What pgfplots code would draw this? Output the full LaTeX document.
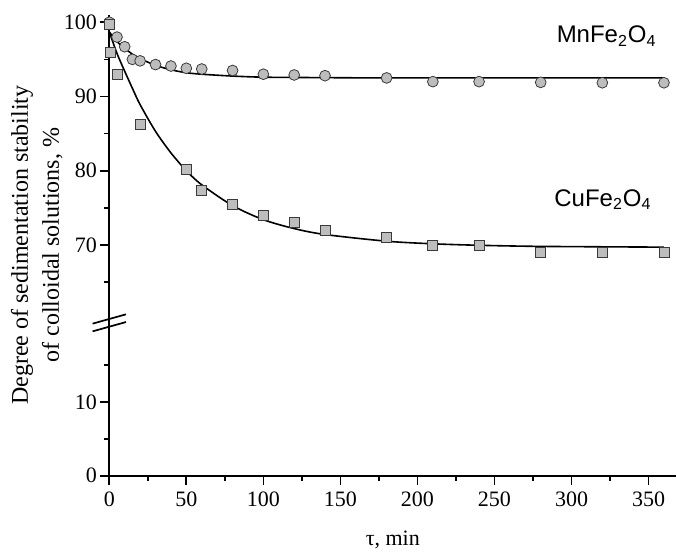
\documentclass[border=0pt]{standalone}
\usepackage{fontspec}
\setmainfont{Liberation Serif}
\newfontfamily\arial{Liberation Sans}
\usepackage{pgfplots}
\pgfplotsset{compat=1.18}

\definecolor{mk}{HTML}{BDBDBD}
\definecolor{mkedge}{HTML}{3A3A3A}

\pgfplotsset{
  brk/.style={
    scale only axis, width=283.5pt, xmin=0, xmax=368,
    axis line style={line width=0.85pt},
    every tick/.style={line width=0.85pt, black},
    major tick length=4.5pt, minor tick length=2.5pt,
    tick align=outside,
    /pgf/number format/assume math mode=true,
    tick label style={font=\fontsize{11}{13}\selectfont},
    yticklabel style={inner xsep=1.5pt},
    clip=false,
  },
  mn/.style={only marks, mark=*, mark size=2.7pt,
    mark options={fill=mk, draw=mkedge, line width=0.4pt}},
  cu/.style={only marks, mark=square*, mark size=2.5pt,
    mark options={fill=mk, draw=mkedge, line width=0.4pt}},
  fit/.style={black, line width=0.8pt, smooth, no marks},
}

\begin{document}
\begin{tikzpicture}
\useasboundingbox (-54.65pt,-40.65pt) rectangle (283.85pt,237.85pt);

% lower part of the broken y axis
\begin{axis}[brk, at={(0pt,0pt)}, height=76.8pt,
  ymin=0, ymax=20.8,
  axis x line*=bottom, axis y line*=left,
  xtick={0,50,...,350}, minor xtick={25,75,...,325},
  ytick={0,10}, minor ytick={5,15},
  xlabel={τ, min},
  every axis x label/.style={at={(axis description cs:0.5,0)}, anchor=center,
    yshift=-32pt, font=\fontsize{11}{13}\selectfont},
]
\end{axis}

% upper part
\begin{axis}[brk, at={(0pt,76.8pt)}, height=153.55pt,
  ymin=59.6, ymax=100.98,
  axis x line=none, axis y line*=left,
  ytick={70,80,90,100}, minor ytick={65,75,85,95},
]
\addplot[mn] coordinates {
  (0,100) (5,98.0) (10,96.7) (15,95.0) (20,94.8) (30,94.3) (40,94.1)
  (50,93.8) (60,93.7) (80,93.5) (100,93.0) (120,92.9) (140,92.8)
  (180,92.5) (210,92.0) (240,92.0) (280,91.9) (320,91.85) (360,91.85)};
\addplot[cu] coordinates {
  (0,99.7) (1,96.0) (5,93.0) (20,86.3) (50,80.2) (60,77.4) (80,75.5)
  (100,74.0) (120,73.0) (140,72.0) (180,71.0) (210,70.0) (240,70.0)
  (280,69.0) (320,69.0) (360,69.0)};
\addplot[fit] coordinates {
  (0,98.7) (5,97.4) (10,96.5) (15,95.7) (20,95.1) (30,94.2) (40,93.6)
  (50,93.2) (60,93.0) (80,92.75) (100,92.6) (130,92.55) (180,92.5)
  (260,92.5) (360,92.5)};
\addplot[fit] coordinates {
  (0,98.7) (5,95.8) (10,93.4) (15,91.1) (20,88.9) (30,85.3) (40,82.4)
  (50,80.0) (60,78.1) (80,75.3) (100,73.4) (120,72.2) (140,71.4)
  (180,70.5) (210,70.15) (240,69.95) (280,69.8) (360,69.7)};
\node[font=\arial\fontsize{12}{14}\selectfont] at (axis cs:322.8,98.1) {MnFe\textsubscript{2}O\textsubscript{4}};
\node[font=\arial\fontsize{12}{14}\selectfont] at (axis cs:320.4,76.1) {CuFe\textsubscript{2}O\textsubscript{4}};
\end{axis}

% break marks on the y axis
\draw[line width=0.85pt] (-8.35pt,76.02pt) -- (8.35pt,80.68pt);
\draw[line width=0.85pt] (-8.35pt,72.17pt) -- (8.35pt,76.83pt);

\node[rotate=90, align=center, font=\fontsize{12}{15.5}\selectfont]
  at (-36.3pt,115.3pt) {Degree of sedimentation stability\\of colloidal solutions, \%};
\end{tikzpicture}
\end{document}
